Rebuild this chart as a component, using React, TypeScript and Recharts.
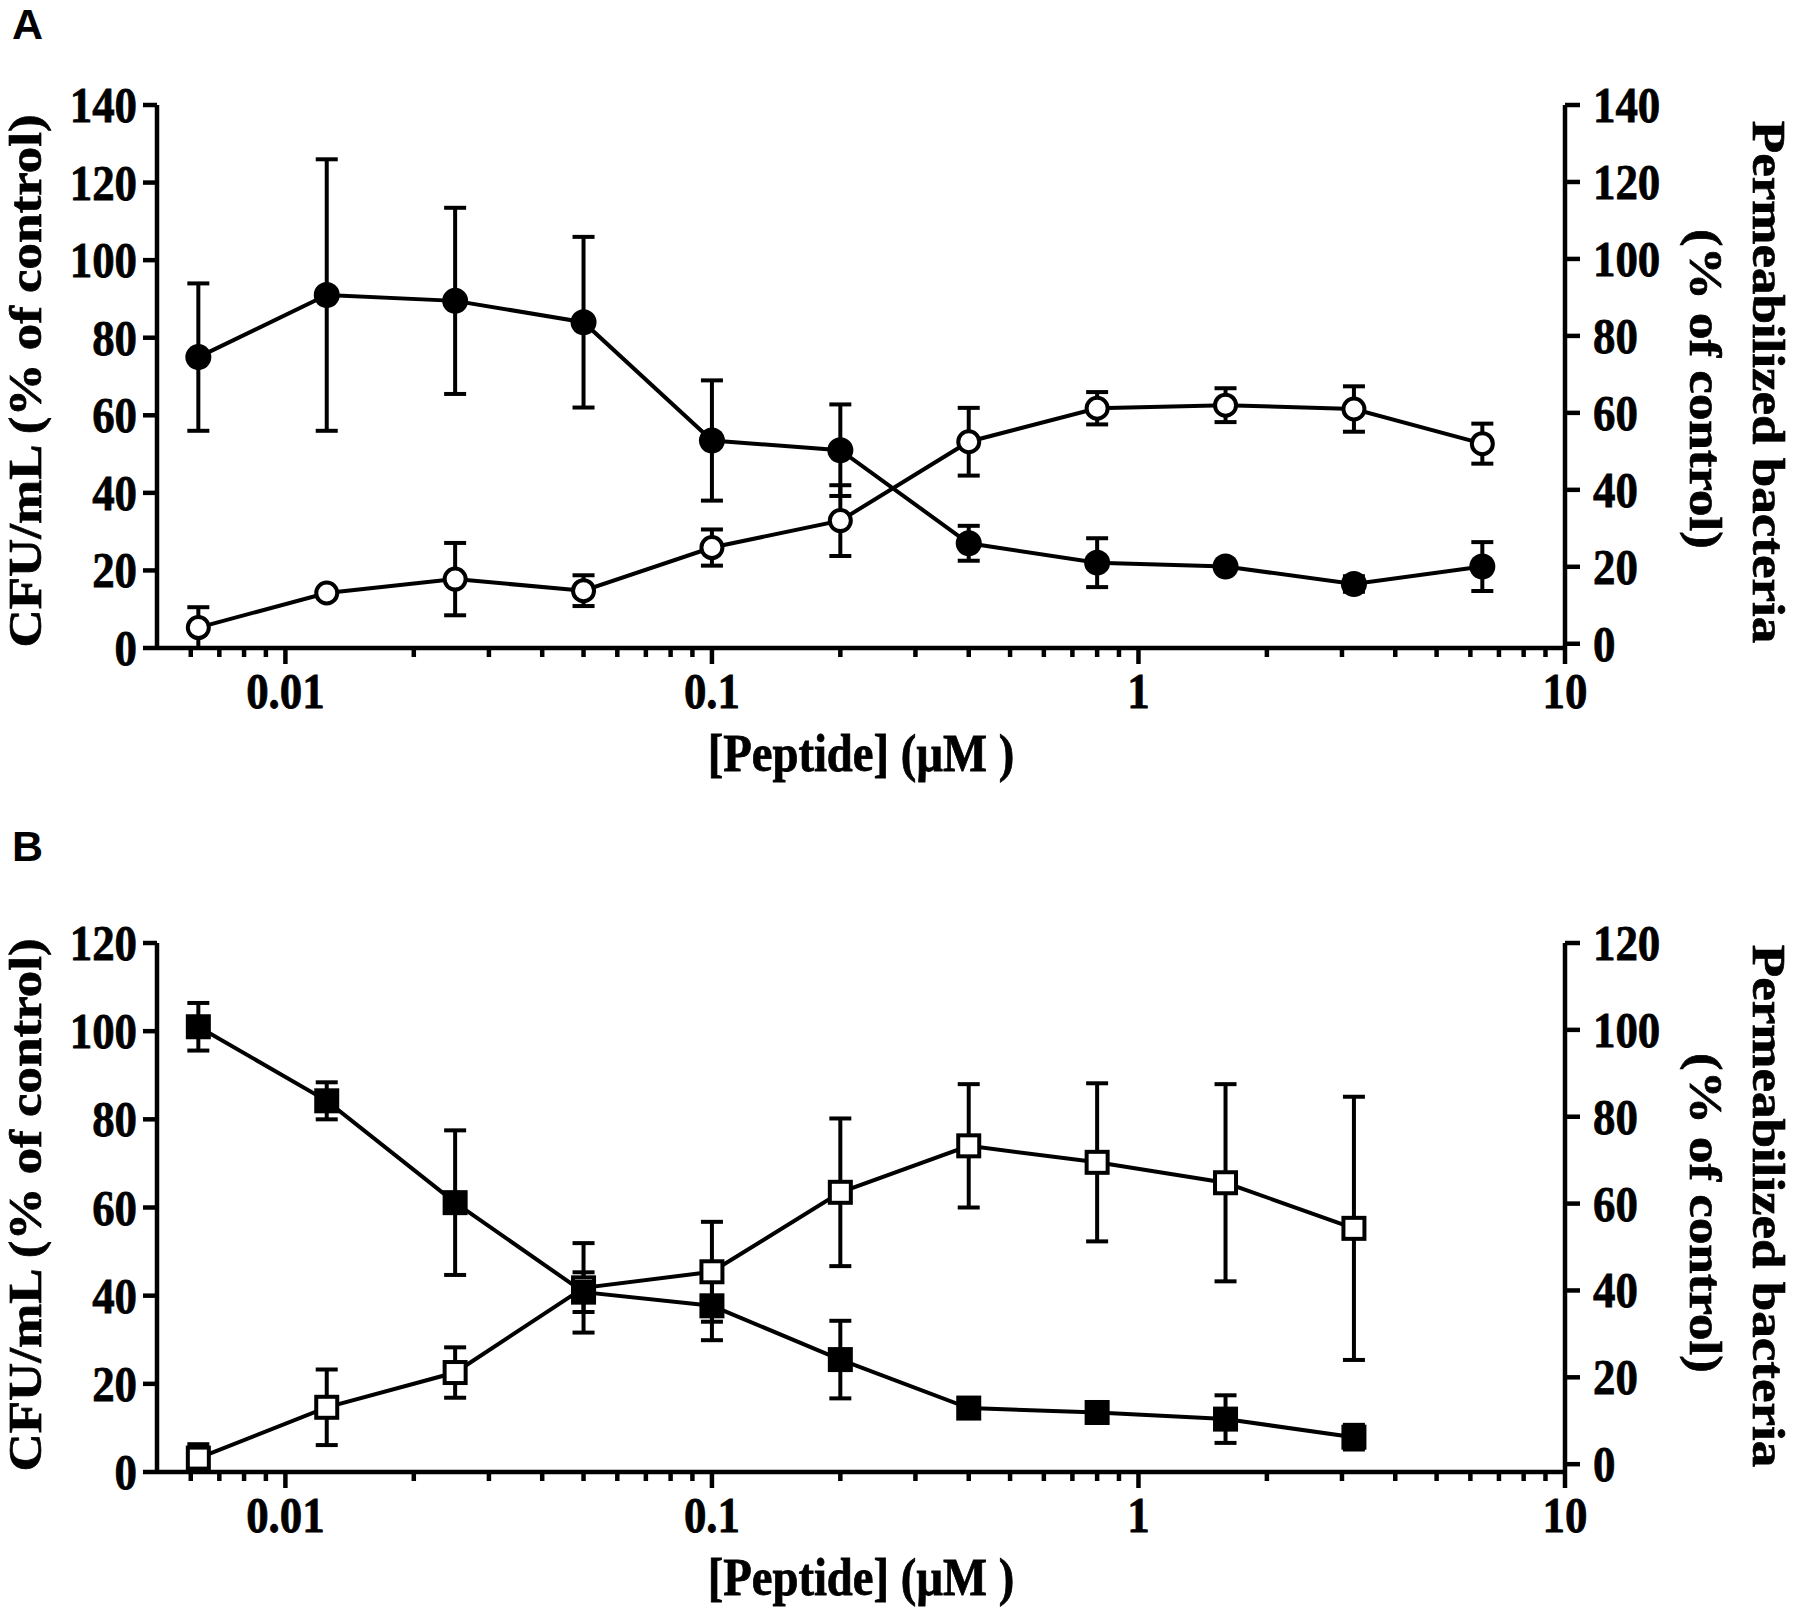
import React from 'react';
import { LineChart, Line, XAxis, YAxis, ErrorBar } from 'recharts';

// ---------- data ----------
const concA = [0.00625, 0.0125, 0.025, 0.05, 0.1, 0.2, 0.4, 0.8, 1.6, 3.2, 6.4];
const cfuA = [75, 91, 89.5, 84, 53.5, 51, 27, 22, 21, 16.5, 21];
const cfuAErr = [19, 35, 24, 22, 15.5, 11.8, 4.5, 6.3, 0, 2, 6.3];
const permA = [4.2, 13.2, 16.8, 13.8, 25, 32, 52.5, 61.2, 62, 61, 52];
const permAErr = [5.3, 0, 9.4, 4, 4.7, 9.2, 8.8, 4.2, 4.4, 5.9, 5.2];

const concB = [0.00625, 0.0125, 0.025, 0.05, 0.1, 0.2, 0.4, 0.8, 1.6, 3.2];
const cfuB = [101, 84.2, 61.1, 40.8, 37.7, 25.5, 14.5, 13.5, 12, 7.9];
const cfuBErr = [5.4, 4.2, 16.4, 4.5, 7.8, 8.8, 1.5, 1.5, 5.4, 2.8];
const permB = [1.4, 13.1, 21.1, 40.6, 44.3, 62.6, 73.3, 69.5, 64.8, 54.3];
const permBErr = [3.2, 8.7, 5.8, 10.3, 11.5, 17, 14.2, 18.2, 22.7, 30.3];

const majorXTicks = [0.01, 0.1, 1, 10];
const minorXTicks = [
  0.006, 0.007, 0.008, 0.009,
  0.02, 0.03, 0.04, 0.05, 0.06, 0.07, 0.08, 0.09,
  0.2, 0.3, 0.4, 0.5, 0.6, 0.7, 0.8, 0.9,
  2, 3, 4, 5, 6, 7, 8, 9,
];
const yTicksA = [0, 20, 40, 60, 80, 100, 120, 140];
const yTicksB = [0, 20, 40, 60, 80, 100, 120];

const xTitle = '[Peptide] (µM )';
const yLeftTitle = 'CFU/mL (% of control)';
const yRightTitle1 = 'Permeabilized bacteria';
const yRightTitle2 = '(% of control)';

const buildRows = (conc: number[], cfu: number[], cfuErr: number[], perm: number[], permErr: number[]) =>
  conc.map((c, i) => ({ conc: c, cfu: cfu[i], cfuErr: cfuErr[i], perm: perm[i], permErr: permErr[i] }));

const dataA = buildRows(concA, cfuA, cfuAErr, permA, permAErr);
const dataB = buildRows(concB, cfuB, cfuBErr, permB, permBErr);

// ---------- style ----------
const SERIF = "'Liberation Serif', 'Times New Roman', serif";
const SX = 0.88;
const TICK_FS = 51;
const TITLE_FS = 53;
const TEXT_STROKE = 0.8;
const W = 1800;
const LEFT_W = 157;
const RIGHT_W = 235;
const X_H = 100;
const PLOT_BOTTOM = 648;
const allXTicks = [...minorXTicks, ...majorXTicks].sort((a, b) => a - b);
const majorSet = new Set(majorXTicks);

const textStyle = {
  fontFamily: SERIF,
  fontWeight: 'bold' as const,
  fill: '#000',
  stroke: '#000',
  strokeWidth: TEXT_STROKE,
};

const XTick = (props: any) => {
  const { x, y, payload } = props;
  const v = payload.value;
  const major = majorSet.has(v);
  return (
    <g>
      <line x1={x} x2={x} y1={y} y2={y + (major ? 16 : 9)} stroke="#000" strokeWidth={4.5} />
      {major && (
        <text
          transform={`translate(${x},${y + 60}) scale(${SX},1)`}
          textAnchor="middle"
          fontSize={TICK_FS}
          {...textStyle}
        >
          {String(v)}
        </text>
      )}
    </g>
  );
};

const YTickLeft = (props: any) => {
  const { x, y, payload } = props;
  return (
    <text
      transform={`translate(${x},${y + 17}) scale(${SX},1)`}
      textAnchor="end"
      fontSize={TICK_FS}
      {...textStyle}
    >
      {payload.value}
    </text>
  );
};

const YTickRight = (props: any) => {
  const { x, y, payload } = props;
  return (
    <text
      transform={`translate(${x},${y + 17}) scale(${SX},1)`}
      textAnchor="start"
      fontSize={TICK_FS}
      {...textStyle}
    >
      {payload.value}
    </text>
  );
};

const makeDot = (shape: 'circle' | 'square', filled: boolean) => (p: any) => {
  const { cx, cy, index } = p;
  if (cx == null || cy == null) return <g key={index} />;
  if (shape === 'circle') {
    return filled ? (
      <circle key={index} cx={cx} cy={cy} r={13} fill="#000" />
    ) : (
      <circle key={index} cx={cx} cy={cy} r={10.5} fill="#fff" stroke="#000" strokeWidth={4} />
    );
  }
  return filled ? (
    <rect key={index} x={cx - 12.5} y={cy - 12.5} width={25} height={25} fill="#000" />
  ) : (
    <rect key={index} x={cx - 10.5} y={cy - 10.5} width={21} height={21} fill="#fff" stroke="#000" strokeWidth={4} />
  );
};

const axisStyle = { stroke: '#000', strokeWidth: 4.5 };

type PanelProps = {
  height: number;
  top: number;
  yMax: number;
  yTicks: number[];
  data: any[];
  shape: 'circle' | 'square';
};

const Panel = ({ height, top, yMax, yTicks, data, shape }: PanelProps) => {
  const plotCenterX = (LEFT_W + (W - RIGHT_W)) / 2;
  return (
    <LineChart
      width={W}
      height={height}
      data={data}
      margin={{ top, right: 0, bottom: height - PLOT_BOTTOM - X_H, left: 0 }}
    >
      <XAxis
        dataKey="conc"
        type="number"
        scale="log"
        domain={[0.005, 10]}
        allowDataOverflow
        ticks={allXTicks}
        interval={0}
        tickLine={false}
        tickSize={0}
        tickMargin={0}
        tick={<XTick />}
        axisLine={axisStyle}
        height={X_H}
      />
      <YAxis
        yAxisId="left"
        type="number"
        domain={[0, yMax]}
        ticks={yTicks}
        interval={0}
        width={LEFT_W}
        tickSize={14}
        tickMargin={6}
        tickLine={axisStyle}
        axisLine={axisStyle}
        tick={<YTickLeft />}
      />
      <YAxis
        yAxisId="right"
        orientation="right"
        type="number"
        domain={[0, yMax]}
        ticks={yTicks}
        interval={0}
        width={RIGHT_W}
        tickSize={15}
        tickMargin={13}
        tickLine={axisStyle}
        axisLine={axisStyle}
        tick={<YTickRight />}
      />
      <Line
        yAxisId="right"
        dataKey="perm"
        type="linear"
        stroke="#000"
        strokeWidth={4}
        dot={makeDot(shape, false)}
        activeDot={false}
        isAnimationActive={false}
      >
        <ErrorBar dataKey="permErr" direction="y" width={11} strokeWidth={4} stroke="#000" />
      </Line>
      <Line
        yAxisId="left"
        dataKey="cfu"
        type="linear"
        stroke="#000"
        strokeWidth={4}
        dot={makeDot(shape, true)}
        activeDot={false}
        isAnimationActive={false}
      >
        <ErrorBar dataKey="cfuErr" direction="y" width={11} strokeWidth={4} stroke="#000" />
      </Line>
      <text
        transform={`translate(41,${PLOT_BOTTOM - 267}) scale(${SX},1) rotate(-90)`}
        textAnchor="middle"
        fontSize={TITLE_FS}
        {...textStyle}
      >
        {yLeftTitle}
      </text>
      <text
        transform={`translate(1753,${PLOT_BOTTOM - 266}) scale(${SX},1) rotate(90)`}
        textAnchor="middle"
        fontSize={TITLE_FS}
        {...textStyle}
      >
        {yRightTitle1}
      </text>
      <text
        transform={`translate(1690,${PLOT_BOTTOM - 259}) scale(${SX},1) rotate(90)`}
        textAnchor="middle"
        fontSize={TITLE_FS}
        {...textStyle}
      >
        {yRightTitle2}
      </text>
      <text
        transform={`translate(${plotCenterX},${PLOT_BOTTOM + 123}) scale(${SX},1)`}
        textAnchor="middle"
        fontSize={TITLE_FS}
        {...textStyle}
      >
        {xTitle}
      </text>
    </LineChart>
  );
};

const PanelLetter = ({ letter, top }: { letter: string; top: number }) => (
  <svg width={80} height={60} style={{ position: 'absolute', left: 0, top }}>
    <text x={12} y={39} fontFamily="'Liberation Sans', Arial, sans-serif" fontWeight="bold" fontSize={43} fill="#000">
      {letter}
    </text>
  </svg>
);

export default function App() {
  return (
    <div style={{ position: 'absolute', left: 0, top: 0, width: W, height: 1609, background: '#fff', overflow: 'hidden' }}>
      <div style={{ position: 'absolute', left: 0, top: 0 }}>
        <Panel height={824} top={105} yMax={140} yTicks={yTicksA} data={dataA} shape="circle" />
      </div>
      <div style={{ position: 'absolute', left: 0, top: 824 }}>
        <Panel height={785} top={119} yMax={120} yTicks={yTicksB} data={dataB} shape="square" />
      </div>
      <PanelLetter letter="A" top={0} />
      <PanelLetter letter="B" top={822} />
    </div>
  );
}
